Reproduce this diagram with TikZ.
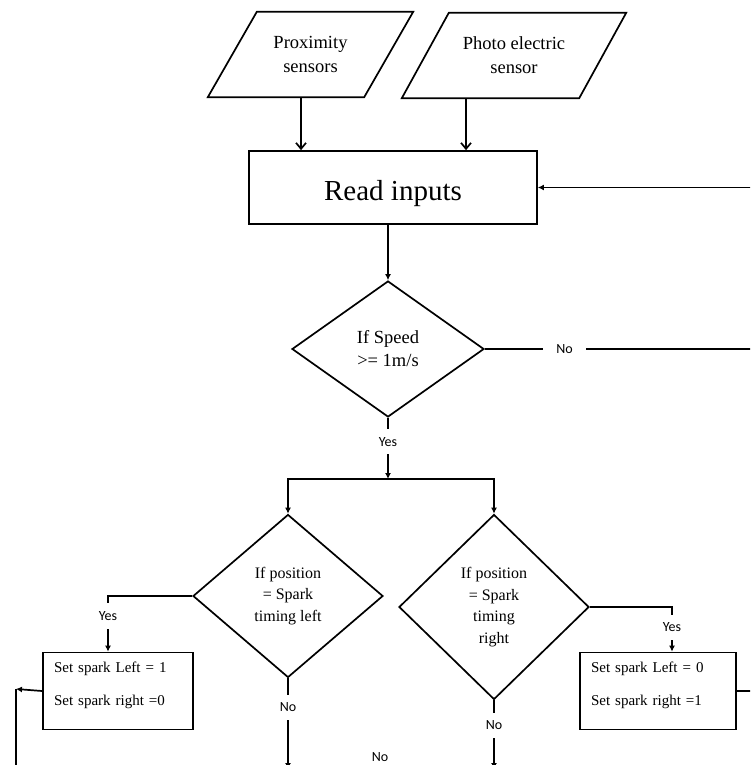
\documentclass[tikz,border=0pt]{standalone}
\usepackage{fontspec}
\setmainfont{Liberation Serif}
\newfontfamily\labelfont{Carlito}
\usetikzlibrary{shapes.geometric,arrows.meta}

\tikzset{
  flowline/.style={line width=1.7pt},
  inarrow/.style={flowline,-{Latex[length=6pt,width=6pt]}},
  sensorarrow/.style={flowline,-{Straight Barb[length=6pt,width=10pt]}},
  sensor/.style={rectangle,inner sep=0pt,align=center,minimum height=85pt,
    font=\fontsize{18.5}{24}\selectfont},
  sensorside/.style={line width=1.7pt,line join=miter},
  readbox/.style={draw,line width=1.7pt,rectangle,inner sep=0pt,
    text height=32pt,text depth=6.5pt,font=\fontsize{29}{34}\selectfont},
  decision/.style={draw,line width=1.7pt,diamond,inner sep=0pt,align=center,
    font=\fontsize{16}{21.5}\selectfont},
  setbox/.style={draw,line width=1.7pt,rectangle,inner sep=0pt,minimum height=77pt},
  settext/.style={inner sep=0pt,align=left,font=\fontsize{15}{18}\selectfont},
  yesno/.style={fill=white,font=\labelfont\fontsize{14}{16}\selectfont,
    inner xsep=2pt,inner ysep=8pt},
}

\begin{document}
\begin{tikzpicture}[x=1pt,y=-1pt]
  \useasboundingbox (0,0) rectangle (750,765);
  \clip (0,0) rectangle (750,765);

  % Draw the inputs and the reading step
  \node[sensor,minimum width=156pt] (prox) at (310.5,54.5) {Proximity\\sensors};
  \draw[sensorside] ([xshift=-24.5pt]prox.south west) -- ([xshift=-24.5pt]prox.south east)
    -- ([xshift=24.5pt]prox.north east) -- ([xshift=24.5pt]prox.north west) -- cycle;
  \node[sensor,minimum width=177pt] (photo) at (514,55.5) {Photo electric\\sensor};
  \draw[sensorside] ([xshift=-23.5pt]photo.south west) -- ([xshift=-23.5pt]photo.south east)
    -- ([xshift=23.5pt]photo.north east) -- ([xshift=23.5pt]photo.north west) -- cycle;
  \node[readbox,minimum width=288pt,minimum height=73pt] (read) at (393,187.5) {Read inputs};

  % Draw the decisions
  \node[decision,minimum width=192pt,minimum height=136pt,
    font=\fontsize{18.5}{23}\selectfont] (speed) at (388,349) {If Speed\\>= 1m/s};
  \node[decision,minimum width=190pt,minimum height=163pt] (posleft) at (288,596) {If position\\= Spark\\timing left};
  \node[decision,minimum width=190pt,minimum height=185pt] (posright) at (494,607) {If position\\= Spark\\timing\\right};

  % Draw the outputs
  \node[setbox,minimum width=150pt] (sparkleft) at (118,691) {};
  \node[settext,text width=128pt] (sparklefttext) at ([yshift=6pt]sparkleft.center)
    {Set spark Left = 1\\[15pt]Set spark right =0};
  \node[setbox,minimum width=156pt] (sparkright) at (658,691) {};
  \node[settext,text width=134pt] (sparkrighttext) at ([yshift=6pt]sparkright.center)
    {Set spark Left = 0\\[15pt]Set spark right =1};

  % Free ends of the connectors
  \coordinate (loopright) at (760,349);
  \coordinate (split) at (388,479);
  \coordinate (exitleft) at (288,769);
  \coordinate (exitright) at (494,769);
  \coordinate (returnleft) at (16,689);
  \coordinate (returnbottom) at (16,775);
  \coordinate (exitbox) at (760,691);

  % Sensors into the reading step
  \draw[sensorarrow] ([xshift=-9.5pt]prox.south) -- ([xshift=-9.5pt]prox.south |- read.north);
  \draw[sensorarrow] ([xshift=-48pt]photo.south) -- ([xshift=-48pt]photo.south |- read.north);
  \draw[inarrow] (speed.north |- read.south) -- (speed.north);

  % Speed check
  \draw[inarrow] (speed.east) -- node[yesno,pos=0.29,inner xsep=13pt] {No} (loopright) |- (read.east);
  \draw[inarrow] (speed.south) -- node[yesno,pos=0.39] {Yes} (split);
  \draw[inarrow] (split) -| (posleft.north);
  \draw[inarrow] (split) -| (posright.north);

  % Position checks
  \draw[inarrow] (posleft.west) -| node[yesno,pos=0.68] {Yes} ([xshift=-10pt]sparkleft.north);
  \draw[inarrow] (posright.east) -| node[yesno,pos=0.73] {Yes} ([xshift=14pt]sparkright.north);
  \draw[inarrow] (posleft.south) -- node[yesno,pos=0.32] {No} (exitleft);
  \draw[inarrow] (posright.south) -- node[yesno,pos=0.36] {No} (exitright);

  % Returns
  \draw[inarrow] (sparkleft.west) -- (returnleft);
  \draw[flowline] (returnleft) -- (returnbottom);
  \draw[flowline] (sparkright.east) -- (exitbox);
  \node[yesno,inner ysep=1pt] (nobottom) at (380,757) {No};
\end{tikzpicture}
\end{document}
